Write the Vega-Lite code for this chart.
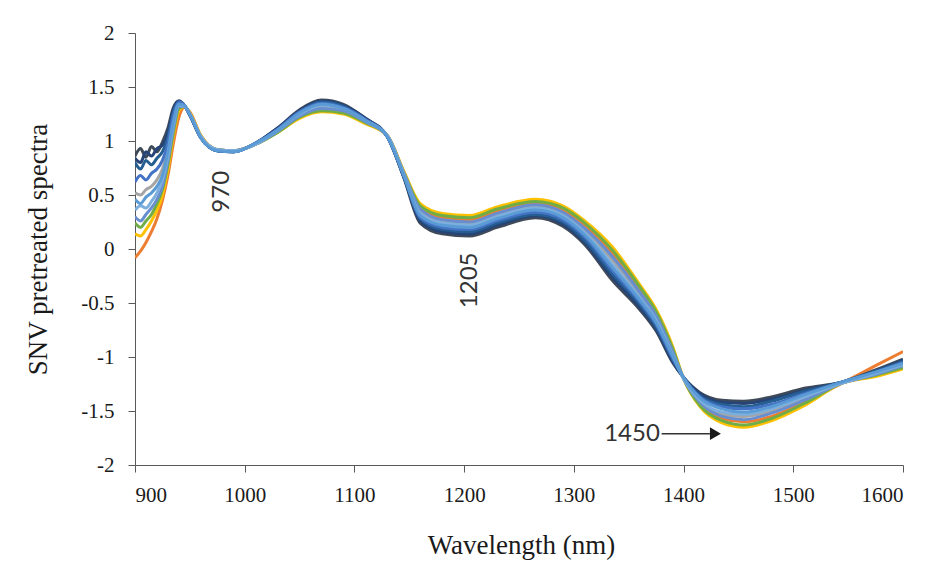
{
  "$schema": "https://vega.github.io/schema/vega-lite/v6.json",
  "width": 768,
  "height": 432,
  "autosize": {"type": "none"},
  "padding": {"left": 135, "top": 33, "right": 47, "bottom": 112},
  "background": "white",
  "config": {
    "view": {"stroke": null},
    "axis": {
      "grid": false,
      "domainColor": "#595959",
      "tickColor": "#595959",
      "tickSize": 7,
      "labelFont": "Liberation Serif",
      "labelFontSize": 21,
      "labelColor": "#1a1a1a",
      "titleFont": "Liberation Serif",
      "titleFontSize": 27,
      "titleFontWeight": "normal",
      "titleColor": "#1a1a1a"
    }
  },
  "datasets": {
    "spectra": [
      {"s":"k8","w":900,"v":-0.08},{"s":"k8","w":905,"v":-0.02},{"s":"k8","w":910,"v":0.06},{"s":"k8","w":915,"v":0.16},{"s":"k8","w":920,"v":0.28},{"s":"k8","w":925,"v":0.45},{"s":"k8","w":930,"v":0.68},{"s":"k8","w":935,"v":0.98},{"s":"k8","w":940,"v":1.22},{"s":"k8","w":945,"v":1.31},
      {"s":"k8","w":950,"v":1.27},{"s":"k8","w":960,"v":1.05},{"s":"k8","w":975,"v":0.92},{"s":"k8","w":990,"v":0.91},{"s":"k8","w":1010,"v":0.97},{"s":"k8","w":1030,"v":1.09},{"s":"k8","w":1050,"v":1.23},{"s":"k8","w":1070,"v":1.29},{"s":"k8","w":1090,"v":1.27},{"s":"k8","w":1110,"v":1.17},{"s":"k8","w":1130,"v":1.05},{"s":"k8","w":1145,"v":0.71},{"s":"k8","w":1160,"v":0.38},{"s":"k8","w":1180,"v":0.29},{"s":"k8","w":1205,"v":0.27},{"s":"k8","w":1230,"v":0.35},{"s":"k8","w":1265,"v":0.43},{"s":"k8","w":1290,"v":0.36},{"s":"k8","w":1310,"v":0.22},{"s":"k8","w":1335,"v":-0.04},{"s":"k8","w":1360,"v":-0.38},{"s":"k8","w":1375,"v":-0.60},{"s":"k8","w":1390,"v":-0.93},{"s":"k8","w":1400,"v":-1.20},{"s":"k8","w":1415,"v":-1.43},{"s":"k8","w":1435,"v":-1.57},{"s":"k8","w":1455,"v":-1.60},{"s":"k8","w":1480,"v":-1.55},{"s":"k8","w":1510,"v":-1.42},{"s":"k8","w":1545,"v":-1.24},{"s":"k8","w":1575,"v":-1.08},{"s":"k8","w":1600,"v":-0.95},

      {"s":"k10","w":900,"v":0.14},{"s":"k10","w":905,"v":0.12},{"s":"k10","w":910,"v":0.18},{"s":"k10","w":915,"v":0.26},{"s":"k10","w":920,"v":0.36},{"s":"k10","w":925,"v":0.50},{"s":"k10","w":930,"v":0.74},{"s":"k10","w":935,"v":1.05},{"s":"k10","w":940,"v":1.28},{"s":"k10","w":945,"v":1.32},
      {"s":"k10","w":950,"v":1.26},{"s":"k10","w":960,"v":1.05},{"s":"k10","w":975,"v":0.92},{"s":"k10","w":990,"v":0.91},{"s":"k10","w":1010,"v":0.97},{"s":"k10","w":1030,"v":1.08},{"s":"k10","w":1050,"v":1.21},{"s":"k10","w":1070,"v":1.27},{"s":"k10","w":1090,"v":1.25},{"s":"k10","w":1110,"v":1.16},{"s":"k10","w":1130,"v":1.05},{"s":"k10","w":1145,"v":0.72},{"s":"k10","w":1160,"v":0.42},{"s":"k10","w":1180,"v":0.33},{"s":"k10","w":1205,"v":0.31},{"s":"k10","w":1230,"v":0.39},{"s":"k10","w":1265,"v":0.46},{"s":"k10","w":1290,"v":0.40},{"s":"k10","w":1310,"v":0.26},{"s":"k10","w":1335,"v":0.02},{"s":"k10","w":1360,"v":-0.33},{"s":"k10","w":1375,"v":-0.56},{"s":"k10","w":1390,"v":-0.90},{"s":"k10","w":1400,"v":-1.20},{"s":"k10","w":1415,"v":-1.46},{"s":"k10","w":1435,"v":-1.61},{"s":"k10","w":1455,"v":-1.65},{"s":"k10","w":1480,"v":-1.59},{"s":"k10","w":1510,"v":-1.45},{"s":"k10","w":1545,"v":-1.24},{"s":"k10","w":1575,"v":-1.18},{"s":"k10","w":1600,"v":-1.11},

      {"s":"k9","w":900,"v":0.24},{"s":"k9","w":905,"v":0.20},{"s":"k9","w":910,"v":0.26},{"s":"k9","w":915,"v":0.32},{"s":"k9","w":920,"v":0.42},{"s":"k9","w":925,"v":0.55},{"s":"k9","w":930,"v":0.78},{"s":"k9","w":935,"v":1.08},{"s":"k9","w":940,"v":1.30},{"s":"k9","w":945,"v":1.32},
      {"s":"k9","w":950,"v":1.25},{"s":"k9","w":960,"v":1.04},{"s":"k9","w":975,"v":0.92},{"s":"k9","w":990,"v":0.91},{"s":"k9","w":1010,"v":0.97},{"s":"k9","w":1030,"v":1.08},{"s":"k9","w":1050,"v":1.22},{"s":"k9","w":1070,"v":1.28},{"s":"k9","w":1090,"v":1.26},{"s":"k9","w":1110,"v":1.17},{"s":"k9","w":1130,"v":1.05},{"s":"k9","w":1145,"v":0.71},{"s":"k9","w":1160,"v":0.40},{"s":"k9","w":1180,"v":0.31},{"s":"k9","w":1205,"v":0.29},{"s":"k9","w":1230,"v":0.37},{"s":"k9","w":1265,"v":0.44},{"s":"k9","w":1290,"v":0.38},{"s":"k9","w":1310,"v":0.24},{"s":"k9","w":1335,"v":-0.01},{"s":"k9","w":1360,"v":-0.35},{"s":"k9","w":1375,"v":-0.58},{"s":"k9","w":1390,"v":-0.92},{"s":"k9","w":1400,"v":-1.20},{"s":"k9","w":1415,"v":-1.45},{"s":"k9","w":1435,"v":-1.59},{"s":"k9","w":1455,"v":-1.63},{"s":"k9","w":1480,"v":-1.57},{"s":"k9","w":1510,"v":-1.43},{"s":"k9","w":1545,"v":-1.24},{"s":"k9","w":1575,"v":-1.17},{"s":"k9","w":1600,"v":-1.10},

      {"s":"k6","w":900,"v":0.52},{"s":"k6","w":905,"v":0.50},{"s":"k6","w":910,"v":0.55},{"s":"k6","w":915,"v":0.58},{"s":"k6","w":920,"v":0.64},{"s":"k6","w":925,"v":0.74},{"s":"k6","w":930,"v":0.93},{"s":"k6","w":935,"v":1.20},{"s":"k6","w":940,"v":1.35},{"s":"k6","w":945,"v":1.33},
      {"s":"k6","w":950,"v":1.24},{"s":"k6","w":960,"v":1.04},{"s":"k6","w":975,"v":0.92},{"s":"k6","w":990,"v":0.91},{"s":"k6","w":1010,"v":0.97},{"s":"k6","w":1030,"v":1.10},{"s":"k6","w":1050,"v":1.24},{"s":"k6","w":1070,"v":1.31},{"s":"k6","w":1090,"v":1.29},{"s":"k6","w":1110,"v":1.18},{"s":"k6","w":1130,"v":1.05},{"s":"k6","w":1145,"v":0.70},{"s":"k6","w":1160,"v":0.35},{"s":"k6","w":1180,"v":0.25},{"s":"k6","w":1205,"v":0.23},{"s":"k6","w":1230,"v":0.31},{"s":"k6","w":1265,"v":0.39},{"s":"k6","w":1290,"v":0.32},{"s":"k6","w":1310,"v":0.17},{"s":"k6","w":1335,"v":-0.10},{"s":"k6","w":1360,"v":-0.42},{"s":"k6","w":1375,"v":-0.64},{"s":"k6","w":1390,"v":-0.96},{"s":"k6","w":1400,"v":-1.20},{"s":"k6","w":1415,"v":-1.41},{"s":"k6","w":1435,"v":-1.53},{"s":"k6","w":1455,"v":-1.55},{"s":"k6","w":1480,"v":-1.50},{"s":"k6","w":1510,"v":-1.39},{"s":"k6","w":1545,"v":-1.24},{"s":"k6","w":1575,"v":-1.16},{"s":"k6","w":1600,"v":-1.07},

      {"s":"k0","w":900,"v":0.86},{"s":"k0","w":905,"v":0.93},{"s":"k0","w":910,"v":0.85},{"s":"k0","w":915,"v":0.95},{"s":"k0","w":920,"v":0.90},{"s":"k0","w":925,"v":0.99},{"s":"k0","w":930,"v":1.12},{"s":"k0","w":935,"v":1.31},{"s":"k0","w":940,"v":1.37},{"s":"k0","w":945,"v":1.33},
      {"s":"k0","w":950,"v":1.24},{"s":"k0","w":960,"v":1.03},{"s":"k0","w":975,"v":0.91},{"s":"k0","w":990,"v":0.90},{"s":"k0","w":1010,"v":0.98},{"s":"k0","w":1030,"v":1.12},{"s":"k0","w":1050,"v":1.29},{"s":"k0","w":1070,"v":1.38},{"s":"k0","w":1090,"v":1.34},{"s":"k0","w":1110,"v":1.21},{"s":"k0","w":1130,"v":1.04},{"s":"k0","w":1145,"v":0.66},{"s":"k0","w":1160,"v":0.24},{"s":"k0","w":1180,"v":0.14},{"s":"k0","w":1205,"v":0.12},{"s":"k0","w":1230,"v":0.20},{"s":"k0","w":1265,"v":0.29},{"s":"k0","w":1290,"v":0.21},{"s":"k0","w":1310,"v":0.04},{"s":"k0","w":1335,"v":-0.29},{"s":"k0","w":1360,"v":-0.56},{"s":"k0","w":1375,"v":-0.76},{"s":"k0","w":1390,"v":-1.05},{"s":"k0","w":1400,"v":-1.19},{"s":"k0","w":1415,"v":-1.33},{"s":"k0","w":1435,"v":-1.40},{"s":"k0","w":1455,"v":-1.41},{"s":"k0","w":1480,"v":-1.37},{"s":"k0","w":1510,"v":-1.29},{"s":"k0","w":1545,"v":-1.23},{"s":"k0","w":1575,"v":-1.12},{"s":"k0","w":1600,"v":-1.02},

      {"s":"k1","w":900,"v":0.84},{"s":"k1","w":905,"v":0.80},{"s":"k1","w":910,"v":0.90},{"s":"k1","w":915,"v":0.86},{"s":"k1","w":920,"v":0.93},{"s":"k1","w":925,"v":0.96},{"s":"k1","w":930,"v":1.08},{"s":"k1","w":935,"v":1.29},{"s":"k1","w":940,"v":1.37},{"s":"k1","w":945,"v":1.33},
      {"s":"k1","w":950,"v":1.24},{"s":"k1","w":960,"v":1.03},{"s":"k1","w":975,"v":0.91},{"s":"k1","w":990,"v":0.90},{"s":"k1","w":1010,"v":0.98},{"s":"k1","w":1030,"v":1.12},{"s":"k1","w":1050,"v":1.28},{"s":"k1","w":1070,"v":1.37},{"s":"k1","w":1090,"v":1.33},{"s":"k1","w":1110,"v":1.21},{"s":"k1","w":1130,"v":1.04},{"s":"k1","w":1145,"v":0.67},{"s":"k1","w":1160,"v":0.26},{"s":"k1","w":1180,"v":0.16},{"s":"k1","w":1205,"v":0.14},{"s":"k1","w":1230,"v":0.22},{"s":"k1","w":1265,"v":0.31},{"s":"k1","w":1290,"v":0.23},{"s":"k1","w":1310,"v":0.06},{"s":"k1","w":1335,"v":-0.26},{"s":"k1","w":1360,"v":-0.54},{"s":"k1","w":1375,"v":-0.74},{"s":"k1","w":1390,"v":-1.04},{"s":"k1","w":1400,"v":-1.19},{"s":"k1","w":1415,"v":-1.34},{"s":"k1","w":1435,"v":-1.42},{"s":"k1","w":1455,"v":-1.43},{"s":"k1","w":1480,"v":-1.39},{"s":"k1","w":1510,"v":-1.31},{"s":"k1","w":1545,"v":-1.23},{"s":"k1","w":1575,"v":-1.13},{"s":"k1","w":1600,"v":-1.03},

      {"s":"k2","w":900,"v":0.80},{"s":"k2","w":905,"v":0.74},{"s":"k2","w":910,"v":0.82},{"s":"k2","w":915,"v":0.78},{"s":"k2","w":920,"v":0.84},{"s":"k2","w":925,"v":0.90},{"s":"k2","w":930,"v":1.03},{"s":"k2","w":935,"v":1.27},{"s":"k2","w":940,"v":1.36},{"s":"k2","w":945,"v":1.33},
      {"s":"k2","w":950,"v":1.24},{"s":"k2","w":960,"v":1.03},{"s":"k2","w":975,"v":0.91},{"s":"k2","w":990,"v":0.90},{"s":"k2","w":1010,"v":0.98},{"s":"k2","w":1030,"v":1.11},{"s":"k2","w":1050,"v":1.27},{"s":"k2","w":1070,"v":1.36},{"s":"k2","w":1090,"v":1.32},{"s":"k2","w":1110,"v":1.20},{"s":"k2","w":1130,"v":1.04},{"s":"k2","w":1145,"v":0.67},{"s":"k2","w":1160,"v":0.28},{"s":"k2","w":1180,"v":0.18},{"s":"k2","w":1205,"v":0.16},{"s":"k2","w":1230,"v":0.24},{"s":"k2","w":1265,"v":0.32},{"s":"k2","w":1290,"v":0.25},{"s":"k2","w":1310,"v":0.08},{"s":"k2","w":1335,"v":-0.23},{"s":"k2","w":1360,"v":-0.51},{"s":"k2","w":1375,"v":-0.72},{"s":"k2","w":1390,"v":-1.02},{"s":"k2","w":1400,"v":-1.19},{"s":"k2","w":1415,"v":-1.36},{"s":"k2","w":1435,"v":-1.44},{"s":"k2","w":1455,"v":-1.46},{"s":"k2","w":1480,"v":-1.41},{"s":"k2","w":1510,"v":-1.32},{"s":"k2","w":1545,"v":-1.23},{"s":"k2","w":1575,"v":-1.13},{"s":"k2","w":1600,"v":-1.04},

      {"s":"k7","w":900,"v":0.30},{"s":"k7","w":905,"v":0.26},{"s":"k7","w":910,"v":0.32},{"s":"k7","w":915,"v":0.38},{"s":"k7","w":920,"v":0.46},{"s":"k7","w":925,"v":0.58},{"s":"k7","w":930,"v":0.82},{"s":"k7","w":935,"v":1.12},{"s":"k7","w":940,"v":1.32},{"s":"k7","w":945,"v":1.32},
      {"s":"k7","w":950,"v":1.25},{"s":"k7","w":960,"v":1.04},{"s":"k7","w":975,"v":0.92},{"s":"k7","w":990,"v":0.91},{"s":"k7","w":1010,"v":0.97},{"s":"k7","w":1030,"v":1.09},{"s":"k7","w":1050,"v":1.23},{"s":"k7","w":1070,"v":1.30},{"s":"k7","w":1090,"v":1.28},{"s":"k7","w":1110,"v":1.18},{"s":"k7","w":1130,"v":1.05},{"s":"k7","w":1145,"v":0.70},{"s":"k7","w":1160,"v":0.37},{"s":"k7","w":1180,"v":0.27},{"s":"k7","w":1205,"v":0.25},{"s":"k7","w":1230,"v":0.33},{"s":"k7","w":1265,"v":0.41},{"s":"k7","w":1290,"v":0.34},{"s":"k7","w":1310,"v":0.19},{"s":"k7","w":1335,"v":-0.07},{"s":"k7","w":1360,"v":-0.40},{"s":"k7","w":1375,"v":-0.62},{"s":"k7","w":1390,"v":-0.95},{"s":"k7","w":1400,"v":-1.20},{"s":"k7","w":1415,"v":-1.42},{"s":"k7","w":1435,"v":-1.55},{"s":"k7","w":1455,"v":-1.58},{"s":"k7","w":1480,"v":-1.52},{"s":"k7","w":1510,"v":-1.40},{"s":"k7","w":1545,"v":-1.24},{"s":"k7","w":1575,"v":-1.16},{"s":"k7","w":1600,"v":-1.08},

      {"s":"k3","w":900,"v":0.62},{"s":"k3","w":905,"v":0.68},{"s":"k3","w":910,"v":0.64},{"s":"k3","w":915,"v":0.70},{"s":"k3","w":920,"v":0.74},{"s":"k3","w":925,"v":0.82},{"s":"k3","w":930,"v":0.98},{"s":"k3","w":935,"v":1.24},{"s":"k3","w":940,"v":1.36},{"s":"k3","w":945,"v":1.33},
      {"s":"k3","w":950,"v":1.24},{"s":"k3","w":960,"v":1.03},{"s":"k3","w":975,"v":0.91},{"s":"k3","w":990,"v":0.90},{"s":"k3","w":1010,"v":0.98},{"s":"k3","w":1030,"v":1.11},{"s":"k3","w":1050,"v":1.27},{"s":"k3","w":1070,"v":1.35},{"s":"k3","w":1090,"v":1.31},{"s":"k3","w":1110,"v":1.20},{"s":"k3","w":1130,"v":1.04},{"s":"k3","w":1145,"v":0.68},{"s":"k3","w":1160,"v":0.29},{"s":"k3","w":1180,"v":0.20},{"s":"k3","w":1205,"v":0.18},{"s":"k3","w":1230,"v":0.26},{"s":"k3","w":1265,"v":0.34},{"s":"k3","w":1290,"v":0.27},{"s":"k3","w":1310,"v":0.11},{"s":"k3","w":1335,"v":-0.20},{"s":"k3","w":1360,"v":-0.49},{"s":"k3","w":1375,"v":-0.70},{"s":"k3","w":1390,"v":-1.01},{"s":"k3","w":1400,"v":-1.19},{"s":"k3","w":1415,"v":-1.37},{"s":"k3","w":1435,"v":-1.46},{"s":"k3","w":1455,"v":-1.48},{"s":"k3","w":1480,"v":-1.44},{"s":"k3","w":1510,"v":-1.34},{"s":"k3","w":1545,"v":-1.23},{"s":"k3","w":1575,"v":-1.14},{"s":"k3","w":1600,"v":-1.05},

      {"s":"k5","w":900,"v":0.36},{"s":"k5","w":905,"v":0.40},{"s":"k5","w":910,"v":0.38},{"s":"k5","w":915,"v":0.44},{"s":"k5","w":920,"v":0.52},{"s":"k5","w":925,"v":0.64},{"s":"k5","w":930,"v":0.86},{"s":"k5","w":935,"v":1.15},{"s":"k5","w":940,"v":1.33},{"s":"k5","w":945,"v":1.32},
      {"s":"k5","w":950,"v":1.25},{"s":"k5","w":960,"v":1.04},{"s":"k5","w":975,"v":0.92},{"s":"k5","w":990,"v":0.91},{"s":"k5","w":1010,"v":0.97},{"s":"k5","w":1030,"v":1.10},{"s":"k5","w":1050,"v":1.25},{"s":"k5","w":1070,"v":1.33},{"s":"k5","w":1090,"v":1.30},{"s":"k5","w":1110,"v":1.19},{"s":"k5","w":1130,"v":1.05},{"s":"k5","w":1145,"v":0.69},{"s":"k5","w":1160,"v":0.33},{"s":"k5","w":1180,"v":0.24},{"s":"k5","w":1205,"v":0.22},{"s":"k5","w":1230,"v":0.30},{"s":"k5","w":1265,"v":0.38},{"s":"k5","w":1290,"v":0.31},{"s":"k5","w":1310,"v":0.15},{"s":"k5","w":1335,"v":-0.14},{"s":"k5","w":1360,"v":-0.45},{"s":"k5","w":1375,"v":-0.66},{"s":"k5","w":1390,"v":-0.98},{"s":"k5","w":1400,"v":-1.20},{"s":"k5","w":1415,"v":-1.40},{"s":"k5","w":1435,"v":-1.51},{"s":"k5","w":1455,"v":-1.53},{"s":"k5","w":1480,"v":-1.48},{"s":"k5","w":1510,"v":-1.37},{"s":"k5","w":1545,"v":-1.24},{"s":"k5","w":1575,"v":-1.15},{"s":"k5","w":1600,"v":-1.07},

      {"s":"k4","w":900,"v":0.46},{"s":"k4","w":905,"v":0.42},{"s":"k4","w":910,"v":0.48},{"s":"k4","w":915,"v":0.52},{"s":"k4","w":920,"v":0.58},{"s":"k4","w":925,"v":0.68},{"s":"k4","w":930,"v":0.90},{"s":"k4","w":935,"v":1.18},{"s":"k4","w":940,"v":1.34},{"s":"k4","w":945,"v":1.33},
      {"s":"k4","w":950,"v":1.25},{"s":"k4","w":960,"v":1.03},{"s":"k4","w":975,"v":0.91},{"s":"k4","w":990,"v":0.90},{"s":"k4","w":1010,"v":0.98},{"s":"k4","w":1030,"v":1.10},{"s":"k4","w":1050,"v":1.26},{"s":"k4","w":1070,"v":1.34},{"s":"k4","w":1090,"v":1.30},{"s":"k4","w":1110,"v":1.19},{"s":"k4","w":1130,"v":1.04},{"s":"k4","w":1145,"v":0.68},{"s":"k4","w":1160,"v":0.31},{"s":"k4","w":1180,"v":0.22},{"s":"k4","w":1205,"v":0.20},{"s":"k4","w":1230,"v":0.28},{"s":"k4","w":1265,"v":0.36},{"s":"k4","w":1290,"v":0.29},{"s":"k4","w":1310,"v":0.13},{"s":"k4","w":1335,"v":-0.17},{"s":"k4","w":1360,"v":-0.47},{"s":"k4","w":1375,"v":-0.68},{"s":"k4","w":1390,"v":-0.99},{"s":"k4","w":1400,"v":-1.19},{"s":"k4","w":1415,"v":-1.38},{"s":"k4","w":1435,"v":-1.48},{"s":"k4","w":1455,"v":-1.51},{"s":"k4","w":1480,"v":-1.46},{"s":"k4","w":1510,"v":-1.35},{"s":"k4","w":1545,"v":-1.23},{"s":"k4","w":1575,"v":-1.14},{"s":"k4","w":1600,"v":-1.06}
    ],
    "peaks": [
      {"t": "970", "w": 979, "v": 0.53},
      {"t": "1205", "w": 1205, "v": -0.29}
    ],
    "arrowNote": [
      {"t": "1450", "w": 1353, "v": -1.71, "w2": 1380, "w3": 1424, "tip": 1429}
    ]
  },
  "layer": [
    {
      "data": {"name": "spectra"},
      "mark": {"type": "line", "strokeWidth": 3, "interpolate": "monotone", "clip": true},
      "encoding": {
        "x": {
          "field": "w", "type": "quantitative",
          "scale": {"domain": [900, 1600], "nice": false, "zero": false},
          "axis": {
            "title": "Wavelength (nm)",
            "values": [900, 1000, 1100, 1200, 1300, 1400, 1500, 1600],
            "format": "d",
            "labelPadding": 12,
            "titleX": 386, "titleY": 80,
            "titleAlign": "center", "titleBaseline": "middle"
          }
        },
        "y": {
          "field": "v", "type": "quantitative",
          "scale": {"domain": [-2, 2], "nice": false, "zero": false},
          "axis": {
            "title": "SNV pretreated spectra",
            "values": [-2, -1.5, -1, -0.5, 0, 0.5, 1, 1.5, 2],
            "labelExpr": "'' + datum.value",
            "labelPadding": 14,
            "titleX": -97, "titleY": 216,
            "titleAlign": "center", "titleBaseline": "middle"
          }
        },
        "color": {
          "field": "s", "type": "nominal", "legend": null,
          "scale": {
            "domain": ["k0","k1","k2","k3","k4","k5","k6","k7","k8","k9","k10"],
            "range": ["#3f4a59","#264478","#255E91","#4472C4","#5B9BD5","#7CAFDD","#A5A5A5","#698ED0","#ED7D31","#70AD47","#FFC000"]
          }
        }
      }
    },
    {
      "data": {"name": "peaks"},
      "mark": {"type": "text", "angle": 270, "align": "center", "baseline": "middle", "font": "Lato", "fontSize": 24, "color": "#333333"},
      "encoding": {
        "x": {"field": "w", "type": "quantitative"},
        "y": {"field": "v", "type": "quantitative"},
        "text": {"field": "t"}
      }
    },
    {
      "data": {"name": "arrowNote"},
      "mark": {"type": "text", "align": "center", "baseline": "middle", "font": "Lato", "fontSize": 24, "color": "#333333"},
      "encoding": {
        "x": {"field": "w", "type": "quantitative"},
        "y": {"field": "v", "type": "quantitative"},
        "text": {"field": "t"}
      }
    },
    {
      "data": {"name": "arrowNote"},
      "mark": {"type": "rule", "color": "#333333", "strokeWidth": 1.5},
      "encoding": {
        "x": {"field": "w2", "type": "quantitative"},
        "x2": {"field": "w3"},
        "y": {"field": "v", "type": "quantitative"}
      }
    },
    {
      "data": {"name": "arrowNote"},
      "mark": {"type": "point", "shape": "triangle-right", "filled": true, "color": "#1a1a1a", "size": 160, "opacity": 1},
      "encoding": {
        "x": {"field": "tip", "type": "quantitative"},
        "y": {"field": "v", "type": "quantitative"}
      }
    }
  ]
}
